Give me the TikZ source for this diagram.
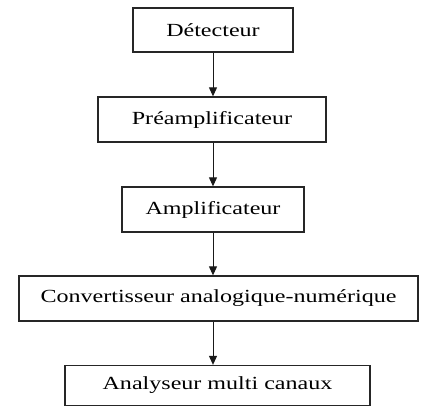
\documentclass[tikz,border=0pt]{standalone}
\usepackage{fontspec}
\setmainfont[FakeStretch=1.3]{Liberation Serif}
\usetikzlibrary{arrows.meta}
\begin{document}
\begin{tikzpicture}[x=1pt,y=-1pt,
  blockbox/.style={draw=black!85,line width=1.3pt,inner sep=0pt,font=\fontsize{18.5}{20}\selectfont,text=black},
  arr/.style={draw=black!90,line width=1pt,-{Triangle[length=9pt,width=8pt]}}]
\useasboundingbox (0,0) rectangle (425,411);
\node[blockbox,minimum width=160pt,minimum height=44pt] (b1) at (213,30) {Détecteur};
\node[blockbox,minimum width=228pt,minimum height=45pt] (b2) at (212,119.5) {Préamplificateur};
\node[blockbox,minimum width=182pt,minimum height=45pt] (b3) at (213,209.5) {Amplificateur};
\node[blockbox,minimum width=399pt,minimum height=45pt] (b4) at (218.5,298.5) {Convertisseur analogique-numérique};
\node[blockbox,minimum width=305pt,minimum height=40pt] (b5) at (217.5,385.5) {Analyseur multi canaux};
\coordinate (ax) at (213,0);
\draw[arr] (b1.south -| ax) -- (b2.north -| ax);
\draw[arr] (b2.south -| ax) -- (b3.north -| ax);
\draw[arr] (b3.south -| ax) -- (b4.north -| ax);
\draw[arr] (b4.south -| ax) -- (b5.north -| ax);
\end{tikzpicture}
\end{document}
